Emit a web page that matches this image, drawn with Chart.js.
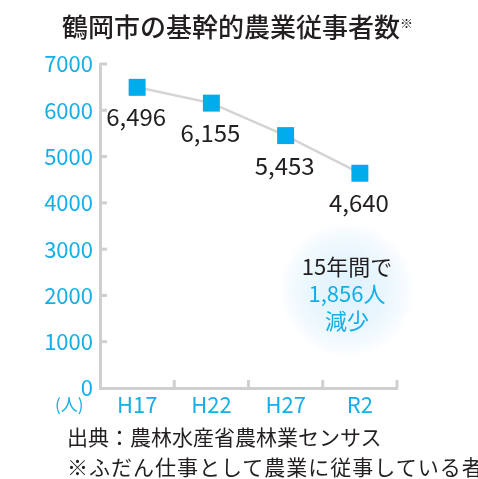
<!DOCTYPE html>
<html>
<head>
<meta charset="utf-8">
<script src="https://cdn.jsdelivr.net/npm/chart.js@4"></script>
<style>
  body { margin: 0; background: #fff; }
  #wrap { position: relative; width: 478px; height: 479px; overflow: hidden; font-family: "Noto Sans CJK JP", sans-serif; }
  #mychart { position: absolute; left: 0; top: 0; }
  .txt { position: absolute; white-space: nowrap; }
  #bubble { position: absolute; left: 279px; top: 222px; width: 136px; height: 136px; border-radius: 50%;
    background: radial-gradient(circle closest-side, #e0f2fc 0%, #e9f6fd 55%, #f6fbfe 85%, rgba(255,255,255,0) 100%); }
</style>
</head>
<body>
<div id="wrap">
  <div id="bubble"></div>
  <canvas id="mychart" width="478" height="479"></canvas>
  <div class="txt" id="title" style="left:62px;top:13px;font-size:26px;line-height:26px;font-weight:500;color:#231f20">鶴岡市の基幹的農業従事者数<span style="font-size:13px;vertical-align:top;position:relative;top:-3px">※</span></div>
  <div class="txt" style="left:55px;top:395px;font-size:17px;line-height:17px;color:#14aee8">(人)</div>
  <div class="txt" style="left:285px;top:252px;width:124px;text-align:center;font-size:22px;line-height:27px;color:#231f20">15年間で<br><span style="color:#14aee8">1,856人<br>減少</span></div>
  <div class="txt" style="left:67px;top:426px;font-size:21px;line-height:21px;color:#231f20">出典：農林水産省農林業センサス</div>
  <div class="txt" style="left:67px;top:456px;font-size:21px;line-height:21px;letter-spacing:1px;color:#231f20">※ふだん仕事として農業に従事している者</div>
</div>
<script>
// data
const years = ['H17', 'H22', 'H27', 'R2'];
const farmers = [6496, 6155, 5453, 4640];
const yTicks = [0, 1000, 2000, 3000, 4000, 5000, 6000, 7000];

let cyan = '#14aee8';
let gray = '#cfcfcf';

// small tick marks drawn inside the plot + value labels under points
const extras = {
  id: 'extras',
  afterDraw(chart) {
    const ctx = chart.ctx;
    const x = chart.scales.x, y = chart.scales.y;
    const area = chart.chartArea;
    ctx.save();
    ctx.strokeStyle = gray;
    ctx.lineWidth = 3;
    yTicks.forEach(v => {
      if (v === 0) return;
      const py = y.getPixelForValue(v);
      ctx.beginPath();
      ctx.moveTo(area.left, py);
      ctx.lineTo(area.left + 7, py);
      ctx.stroke();
    });
    for (let i = 0; i < years.length; i++) {
      const px = i < years.length - 1
        ? (x.getPixelForValue(i) + x.getPixelForValue(i + 1)) / 2
        : area.right;
      ctx.beginPath();
      ctx.moveTo(px, area.bottom);
      ctx.lineTo(px, area.bottom - 8);
      ctx.stroke();
    }
    // value labels
    const meta = chart.getDatasetMeta(0);
    ctx.fillStyle = '#231f20';
    ctx.font = '24px "Noto Sans CJK JP"';
    ctx.textAlign = 'center';
    ctx.textBaseline = 'middle';
    meta.data.forEach((pt, i) => {
      ctx.fillText(farmers[i].toLocaleString('en-US'), pt.x - 1, pt.y + 30);
    });
    ctx.restore();
  }
};

let myChart = document.getElementById('mychart').getContext('2d');
let farmChart = new Chart(myChart, {
  type: 'line',
  data: {
    labels: years,
    datasets: [{
      data: farmers,
      borderColor: '#d4d4d4',
      borderWidth: 2.5,
      pointStyle: 'rect',
      pointRadius: 12,
      pointHoverRadius: 12,
      pointBackgroundColor: '#00acec',
      pointBorderWidth: 0,
      tension: 0
    }]
  },
  options: {
    responsive: false,
    animation: false,
    layout: { padding: { left: 0, right: 81, top: 64, bottom: 61 } },
    scales: {
      x: {
        offset: true,
        grid: { display: false, drawTicks: false, offset: true },
        border: { color: gray, width: 3 },
        ticks: { color: cyan, padding: 3, font: { family: '"Noto Sans CJK JP"', size: 22 } },
        afterFit: s => { s.height = 30; }
      },
      y: {
        min: 0,
        max: 7000,
        grid: { display: false, drawTicks: false },
        border: { color: gray, width: 3 },
        ticks: {
          stepSize: 1000, color: cyan, padding: 7,
          font: { family: '"Noto Sans CJK JP"', size: 22 },
          callback: v => String(v)
        },
        afterFit: s => { s.width = 100; }
      }
    },
    plugins: {
      legend: { display: false },
      tooltip: { enabled: false }
    }
  },
  plugins: [extras]
});
</script>
</body>
</html>
